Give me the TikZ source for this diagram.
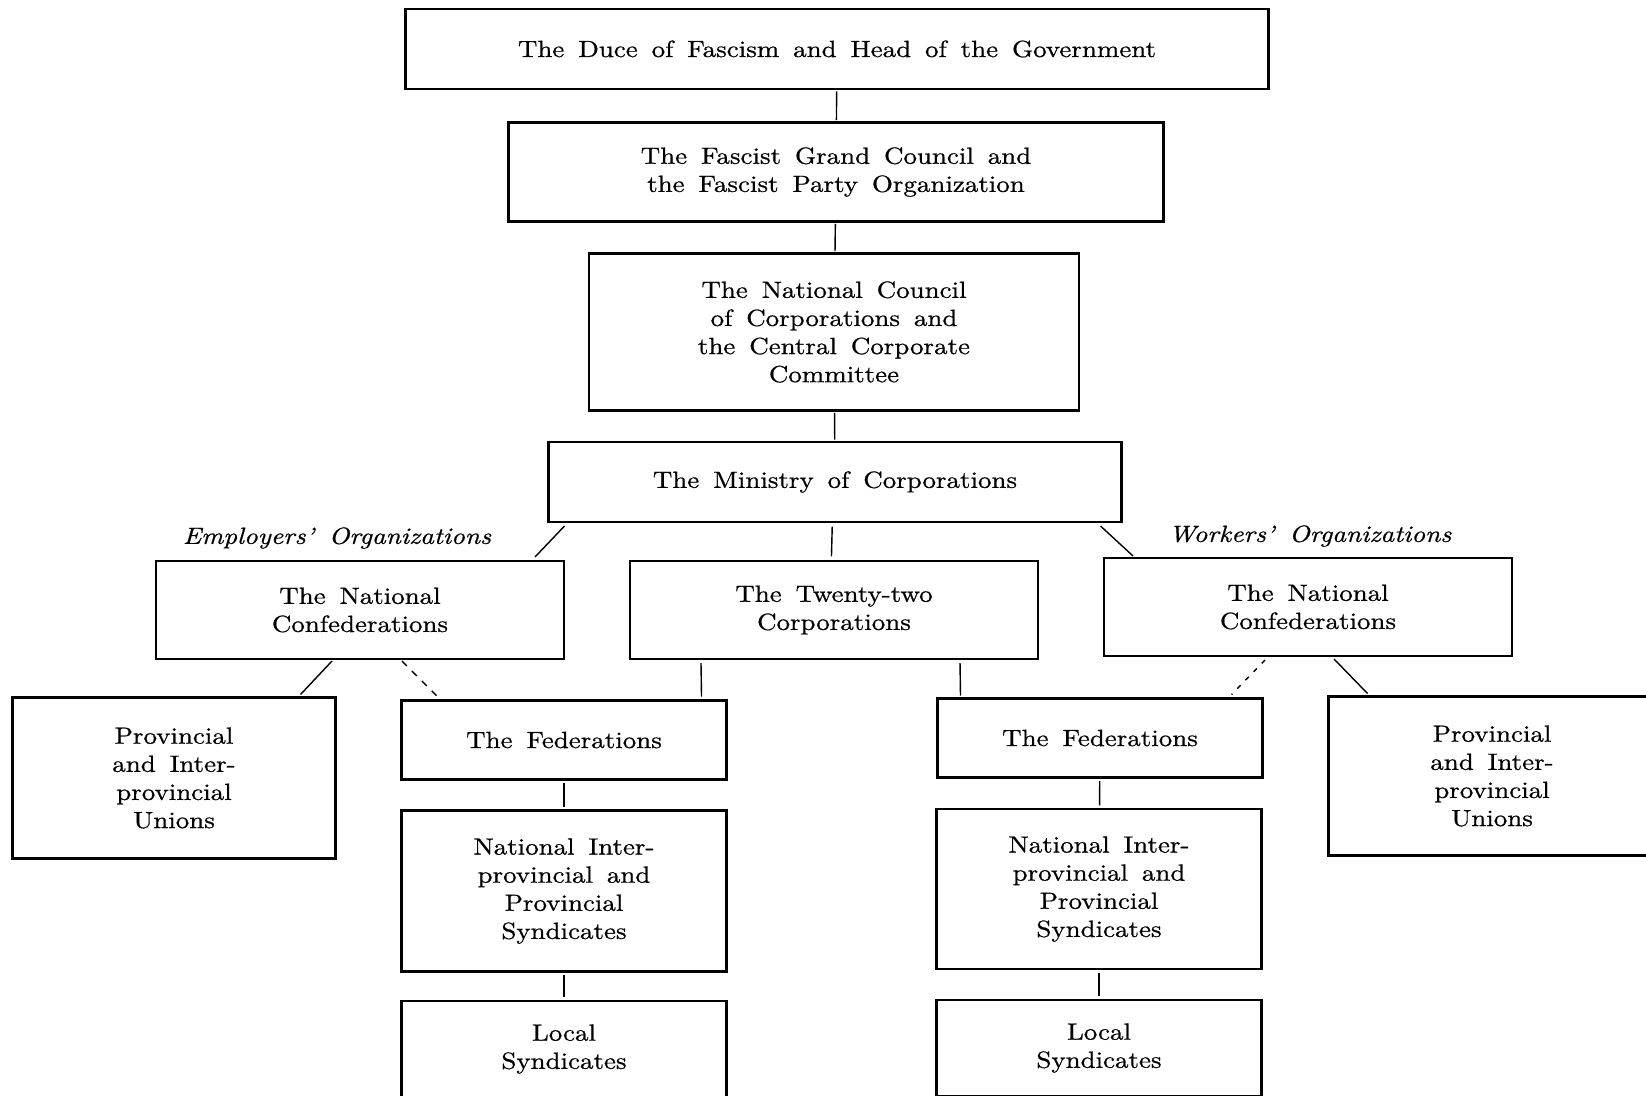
\documentclass[tikz,border=0pt]{standalone}
\usepackage{fontspec}
\setmainfont{lmroman10-regular.otf}[ItalicFont=lmroman10-italic.otf, FakeStretch=1.15, WordSpace=1.55, FakeBold=0.7]
\usetikzlibrary{calc}

\begin{document}
\begin{tikzpicture}[x=0.015cm, y=-0.015cm,
  box/.style={draw, line width=1pt, align=center, inner sep=0pt, outer sep=0pt},
  link/.style={line width=0.6pt},
  tier/.style={box, minimum width=6.12cm, minimum height=1.47cm},
  lower/.style={box, minimum width=4.875cm}]
\useasboundingbox (0,0) rectangle (1646,1095);
\clip (0,0) rectangle (1646,1095);
\node[box, minimum width=12.945cm, minimum height=1.2cm] (duce) at (837,49) {The Duce of Fascism and Head of the Government};
\node[box, minimum width=9.825cm, minimum height=1.485cm] (gc) at (836,172) {The Fascist Grand Council and\\the Fascist Party Organization};
\node[box, minimum width=7.35cm, minimum height=2.355cm] (nc) at (834,332) {The National Council\\of Corporations and\\the Central Corporate\\Committee};
\node[box, minimum width=8.595cm, minimum height=1.2cm] (min) at (835,482) {The Ministry of Corporations};
\node (emp) at (337,538) {\itshape Employers’ Organizations};
\node (wrk) at (1310,536) {\itshape Workers’ Organizations};
\node[tier] (lnc) at (360,610) {The National\\Confederations};
\node[tier] (tt) at (834,610) {The Twenty-two\\Corporations};
\node[tier] (rnc) at (1308,607) {The National\\Confederations};
\node[box, minimum width=4.845cm, minimum height=2.415cm] (lpu) at (174,778) {Provincial\\and Inter-\\provincial\\Unions};
\node[box, minimum width=4.905cm, minimum height=2.385cm] (rpu) at (1492,776) {Provincial\\and Inter-\\provincial\\Unions};
\node[lower, minimum height=1.185cm] (lfed) at (564,740) {The Federations};
\node[lower, minimum height=2.415cm] (lni) at (564,891) {National Inter-\\provincial and\\Provincial\\Syndicates};
\node[lower, minimum height=1.44cm] (lloc) at (564,1049) {Local\\Syndicates};
\node[lower, minimum height=1.185cm] (rfed) at (1100,738) {The Federations};
\node[lower, minimum height=2.4cm] (rni) at (1099,889) {National Inter-\\provincial and\\Provincial\\Syndicates};
\node[lower, minimum height=1.44cm] (rloc) at (1099,1048) {Local\\Syndicates};

\draw[link, shorten <=1pt, shorten >=1pt] (duce) -- (gc);
\draw[link, shorten <=1pt, shorten >=1pt] (gc) -- (nc);
\draw[link, shorten <=1pt, shorten >=1pt] (nc) -- (min);
\draw[link, shorten <=2pt, shorten >=2pt] ([xshift=-0.04cm]min.south) -- ([xshift=-0.04cm]tt.north);
\draw[link] ($(min.south west)+(16,4)$) -- ($(lnc.north east)+(-29,-4)$);
\draw[link] ($(min.south east)+(-21,4)$) -- ($(rnc.north west)+(29,-2)$);
\draw[link] ($(lnc.south west)+(176,2)$) -- ($(lpu.north east)+(-35,-3)$);
\draw[link, dash pattern=on 3pt off 3pt] ($(lnc.south west)+(246,2)$) -- ($(lfed.north west)+(35,-5)$);
\draw[link] ($(tt.south west)+(71,4)$) -- ($(lfed.north east)+(-25,-4)$);
\draw[link] ($(tt.south east)+(-78,4)$) -- ($(rfed.north west)+(23,-3)$);
\draw[link, dash pattern=on 2pt off 3pt] ($(rnc.south west)+(161,4)$) -- ($(rfed.north east)+(-31,-4)$);
\draw[link] ($(rnc.south east)+(-178,3)$) -- ($(rpu.north west)+(39,-3)$);
\draw[link, shorten <=1.5pt, shorten >=1.5pt] (lfed) -- (lni);
\draw[link, shorten <=1.5pt, shorten >=1.5pt] (lni) -- (lloc);
\draw[link, shorten <=1.5pt, shorten >=1.5pt] (rfed) -- (rni);
\draw[link, shorten <=1.5pt, shorten >=1.5pt] (rni) -- (rloc);
\end{tikzpicture}
\end{document}
